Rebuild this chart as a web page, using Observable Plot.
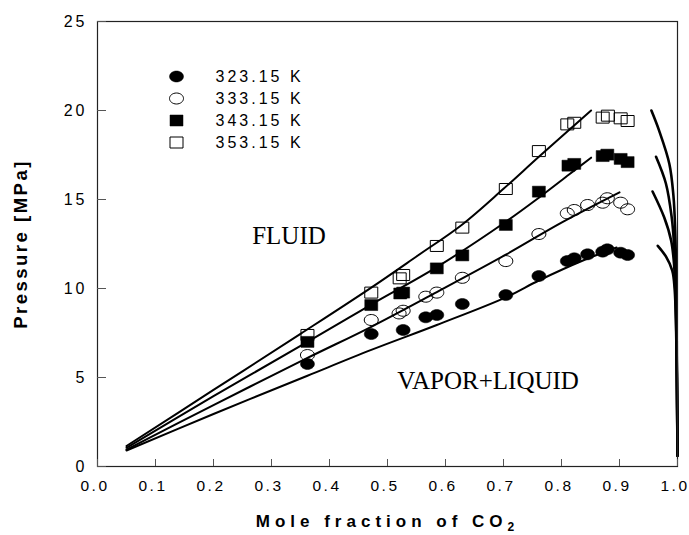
<!DOCTYPE html>
<html><head><meta charset="utf-8">
<script src="https://cdn.jsdelivr.net/npm/d3@7"></script>
<script src="https://cdn.jsdelivr.net/npm/@observablehq/plot@0.6"></script>
<style>body{margin:0;background:#fff;}</style>
</head><body><div id="chart"></div>
<script>
// ---- data ----
const seriesNames = ["323.15 K", "333.15 K", "343.15 K", "353.15 K"];

// experimental points (x = mole fraction CO2, p = pressure MPa)
const x323 = [0.362, 0.472, 0.527, 0.566, 0.585, 0.629, 0.704, 0.761, 0.810, 0.822, 0.845, 0.871, 0.879, 0.902, 0.914];
const p323 = [5.76, 7.44, 7.67, 8.38, 8.51, 9.13, 9.63, 10.70, 11.54, 11.70, 11.92, 12.07, 12.20, 12.01, 11.88];
const x333 = [0.362, 0.472, 0.520, 0.527, 0.566, 0.585, 0.629, 0.704, 0.761, 0.810, 0.822, 0.845, 0.871, 0.879, 0.902, 0.914];
const p333 = [6.26, 8.23, 8.60, 8.75, 9.54, 9.77, 10.60, 11.54, 13.06, 14.22, 14.41, 14.69, 14.82, 15.07, 14.82, 14.45];
const x343 = [0.362, 0.472, 0.522, 0.527, 0.585, 0.629, 0.704, 0.761, 0.812, 0.822, 0.871, 0.879, 0.902, 0.914];
const p343 = [7.00, 9.07, 9.72, 9.77, 11.13, 11.86, 13.57, 15.44, 16.90, 17.00, 17.44, 17.52, 17.28, 17.10];
const x353 = [0.362, 0.472, 0.521, 0.527, 0.585, 0.629, 0.704, 0.761, 0.810, 0.822, 0.871, 0.880, 0.902, 0.914];
const p353 = [7.39, 9.77, 10.57, 10.76, 12.39, 13.42, 15.59, 17.72, 19.22, 19.31, 19.60, 19.71, 19.56, 19.41];

// calculated bubble-point curves
const bx323 = [0.05, 0.2, 0.362, 0.472, 0.585, 0.704, 0.761, 0.839, 0.895];
const bp323 = [0.90, 2.95, 5.10, 6.55, 7.95, 9.50, 10.45, 11.60, 12.30];
const bx333 = [0.05, 0.2, 0.362, 0.472, 0.585, 0.704, 0.80, 0.90];
const bp333 = [0.95, 3.45, 6.10, 7.85, 9.80, 11.90, 13.70, 15.40];
const bx343 = [0.05, 0.2, 0.362, 0.472, 0.585, 0.704, 0.761, 0.813, 0.851];
const bp343 = [1.05, 3.95, 7.00, 9.10, 11.20, 13.75, 15.10, 16.40, 17.35];
const bx353 = [0.05, 0.2, 0.35, 0.472, 0.55, 0.629, 0.70, 0.761, 0.851];
const bp353 = [1.15, 4.30, 7.45, 10.05, 11.80, 13.60, 15.60, 17.40, 20.00];

// calculated dew-point curves
const dx323 = [0.966, 0.980, 0.991, 0.995, 0.998, 1.000];
const dp323 = [12.40, 11.80, 11.00, 10.00, 7.00, 0.60];
const dx333 = [0.957, 0.977, 0.989, 0.994, 0.997, 0.999, 1.000];
const dp333 = [15.45, 14.00, 12.70, 11.40, 9.00, 5.00, 0.60];
const dx343 = [0.963, 0.980, 0.990, 0.994, 0.997, 0.999, 1.000];
const dp343 = [17.40, 15.90, 14.00, 12.50, 10.00, 5.00, 0.60];
const dx353 = [0.955, 0.968, 0.986, 0.993, 0.996, 0.998, 0.999, 1.000];
const dp353 = [20.00, 18.90, 17.00, 15.20, 13.30, 10.00, 5.00, 0.60];

const xTicks = [0.0, 0.1, 0.2, 0.3, 0.4, 0.5, 0.6, 0.7, 0.8, 0.9, 1.0];
const yTicks = [0, 5, 10, 15, 20, 25];

// ---- build tables ----
const pts = (xs, ps, s) => xs.map((x, i) => ({x, p: ps[i], s}));
const points = [
  pts(x323, p323, seriesNames[0]), pts(x333, p333, seriesNames[1]),
  pts(x343, p343, seriesNames[2]), pts(x353, p353, seriesNames[3])
];
const bubble = [pts(bx323, bp323, 0), pts(bx333, bp333, 1), pts(bx343, bp343, 2), pts(bx353, bp353, 3)];
const dew = [pts(dx323, dp323, 0), pts(dx333, dp333, 1), pts(dx343, dp343, 2), pts(dx353, dp353, 3)];

// custom marker shapes
const K = 0.5523;
const ellipse = {draw(c) { const rx = 7, ry = 5.5;
  c.moveTo(rx, 0);
  c.bezierCurveTo(rx, ry*K, rx*K, ry, 0, ry);
  c.bezierCurveTo(-rx*K, ry, -rx, ry*K, -rx, 0);
  c.bezierCurveTo(-rx, -ry*K, -rx*K, -ry, 0, -ry);
  c.bezierCurveTo(rx*K, -ry, rx, -ry*K, rx, 0);
  c.closePath(); }};
const box = {draw(c) { c.rect(-6.5, -5.5, 13, 11); }};
const symbols = [ellipse, ellipse, box, box];
const filled = [true, false, true, false];

const marks = [];
// bubble & dew lines
bubble.forEach(d => marks.push(Plot.line(d, {x: "x", y: "p", curve: "catmull-rom", stroke: "#000", strokeWidth: 2})));
dew.forEach(d => marks.push(Plot.line(d, {x: "x", y: "p", curve: "catmull-rom", stroke: "#000", strokeWidth: 2.6})));
// points
points.forEach((d, i) => marks.push(Plot.dot(d, {
  x: "x", y: "p", symbol: symbols[i], r: 6,
  fill: filled[i] ? "#000" : "none", stroke: "#000", strokeWidth: filled[i] ? 0.5 : 1
})));
// legend
seriesNames.forEach((name, i) => {
  marks.push(Plot.dot([name], {frameAnchor: "top-left", dx: 79, dy: 55 + 22 * i, symbol: symbols[i], r: 6,
    fill: filled[i] ? "#000" : "none", stroke: "#000", strokeWidth: filled[i] ? 0.5 : 1}));
  marks.push(Plot.text([name], {frameAnchor: "top-left", dx: 118, dy: 55 + 22 * i, text: d => d,
    textAnchor: "start", lineAnchor: "middle", fontSize: 16, className: "spaced"}));
});
// region labels
marks.push(Plot.text(["FLUID"], {frameAnchor: "top-left", dx: 154.7, dy: 222.3, text: d => d,
  textAnchor: "start", lineAnchor: "bottom", fontSize: 25, fontFamily: "'Liberation Serif', 'Times New Roman', serif"}));
marks.push(Plot.text(["VAPOR+LIQUID"], {frameAnchor: "top-left", dx: 299.7, dy: 367.3, text: d => d,
  textAnchor: "start", lineAnchor: "bottom", fontSize: 25, fontFamily: "'Liberation Serif', 'Times New Roman', serif"}));
// frame and axes
marks.push(Plot.frame({stroke: "#222", strokeWidth: 1.2}));
// inward tick marks (labels drawn by a second axis)
marks.push(Plot.axisX({ticks: xTicks, tickFormat: () => "", tickSize: -7, stroke: "#555", label: null}));
marks.push(Plot.axisX({ticks: xTicks, tickFormat: d3.format(".1f"), tickSize: 0, tickPadding: 13,
  fontSize: 15.5, label: null, className: "xticks", dx: -2.5}));
marks.push(Plot.axisY({ticks: yTicks, tickFormat: d => String(d), tickSize: -9, tickPadding: 19,
  stroke: "#555", fontSize: 16, label: null, className: "spaced"}));
// axis titles
marks.push(Plot.text(["Pressure [MPa]"], {frameAnchor: "left", dx: -76, text: d => d, rotate: -90,
  textAnchor: "middle", lineAnchor: "middle", fontSize: 18.5, fontWeight: "bold", className: "ytitle"}));
marks.push(Plot.text(["Mole fraction of CO"], {frameAnchor: "bottom", dy: 60, text: d => d,
  textAnchor: "middle", lineAnchor: "bottom", fontSize: 17, fontWeight: "bold", className: "xtitle"}));

const chart = Plot.plot({
  width: 689, height: 535,
  marginLeft: 97, marginRight: 12, marginTop: 21, marginBottom: 69,
  x: {domain: [0, 1]},
  y: {domain: [0, 25]},
  style: {fontFamily: "'Liberation Sans', Arial, sans-serif", background: "#fff", color: "#000", overflow: "visible"},
  marks
});
document.getElementById("chart").appendChild(chart);

// typographic touches
const svg = d3.select(chart);
svg.selectAll("g.spaced text").style("letter-spacing", "3px");
svg.selectAll("g.xticks text").style("letter-spacing", "2.5px");
svg.selectAll("g.ytitle text").style("letter-spacing", "2.5px");
svg.selectAll("g.xtitle text").style("letter-spacing", "5px")
  .append("tspan").attr("dy", "4").attr("font-size", "12").text("2");
</script>
</body></html>
